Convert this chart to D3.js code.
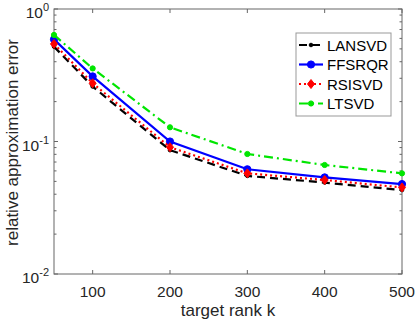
<!DOCTYPE html>
<html><head><meta charset="utf-8">
<script src="https://cdn.jsdelivr.net/npm/d3@7"></script>
<style>body{margin:0;background:#fff;} svg{display:block;}</style>
</head><body>
<script>
const ranks = [50, 100, 200, 300, 400, 500];
const lansvd = [0.52, 0.26, 0.086, 0.055, 0.049, 0.043];
const ffsrqr = [0.59, 0.31, 0.100, 0.0617, 0.0536, 0.0477];
const rsisvd = [0.545, 0.275, 0.0905, 0.0575, 0.0512, 0.0450];
const ltsvd = [0.637, 0.356, 0.128, 0.0805, 0.0665, 0.0575];
const seriesNames = ["LANSVD", "FFSRQR", "RSISVD", "LTSVD"];
const xTicks = [100, 200, 300, 400, 500];
const yTickExps = [0, -1, -2];

const W = 415, H = 320;
const m = {l: 54, r: 13, t: 9, b: 46};
const svg = d3.select("body").append("svg").attr("width", W).attr("height", H)
  .style("font-family", "'Liberation Sans', Arial, sans-serif");

const x = d3.scaleLinear().domain([50, 500]).range([m.l, W - m.r]);
const y = d3.scaleLog().domain([0.01, 1]).range([H - m.b, m.t]);

const axisColor = "#666";
const textColor = "#262626";
const g = svg.append("g");
g.append("rect").attr("x", m.l).attr("y", m.t).attr("width", W - m.r - m.l).attr("height", H - m.b - m.t)
  .attr("fill", "none").attr("stroke", axisColor).attr("stroke-width", 1);

xTicks.forEach(v => {
  g.append("line").attr("x1", x(v)).attr("x2", x(v)).attr("y1", y(0.01)).attr("y2", y(0.01) - 4).attr("stroke", axisColor);
  g.append("line").attr("x1", x(v)).attr("x2", x(v)).attr("y1", y(1)).attr("y2", y(1) + 4).attr("stroke", axisColor);
  g.append("text").attr("x", x(v)).attr("y", H - m.b + 23).attr("text-anchor", "middle")
    .attr("font-size", 15.5).attr("fill", textColor).text(v);
});
const allY = [];
for (let e = -2; e < 0; e++) for (let k = 1; k < 10; k++) allY.push({v: k * Math.pow(10, e), major: k === 1});
allY.push({v: 1, major: true});
allY.forEach(t => {
  const len = t.major ? 4 : 2.5;
  g.append("line").attr("x1", m.l).attr("x2", m.l + len).attr("y1", y(t.v)).attr("y2", y(t.v)).attr("stroke", axisColor);
  g.append("line").attr("x1", W - m.r).attr("x2", W - m.r - len).attr("y1", y(t.v)).attr("y2", y(t.v)).attr("stroke", axisColor);
});
yTickExps.forEach(e => {
  const t = g.append("text").attr("x", m.l - 5).attr("y", y(Math.pow(10, e)) + 9).attr("text-anchor", "end")
    .attr("font-size", 15.5).attr("fill", textColor);
  t.append("tspan").text("10");
  t.append("tspan").attr("dy", -7).attr("font-size", 11).text(e);
});

svg.append("text").attr("x", (m.l + W - m.r) / 2).attr("y", H - 4).attr("text-anchor", "middle")
  .attr("font-size", 17).attr("fill", textColor).text("target rank k");
svg.append("text").attr("transform", `translate(18,${(m.t + H - m.b) / 2 + 1}) rotate(-90)`).attr("text-anchor", "middle")
  .attr("font-size", 17).attr("fill", textColor).text("relative approximation error");

const series = [
  {name: seriesNames[0], vals: lansvd, color: "#000000", dash: "8,5", marker: "dot", ms: 1.8},
  {name: seriesNames[1], vals: ffsrqr, color: "#0000ff", dash: null, marker: "circle", ms: 3.6},
  {name: seriesNames[2], vals: rsisvd, color: "#ff0000", dash: "2,3", marker: "diamond", ms: 5},
  {name: seriesNames[3], vals: ltsvd, color: "#00e600", dash: "9,4,2,4", marker: "dot", ms: 2.6}
];
const line = d3.line().x(d => x(d[0])).y(d => y(d[1]));
function drawMarker(sel, s, cx, cy) {
  if (s.marker === "diamond") {
    const hw = 3.5, hh = 4.5;
    sel.append("path").attr("d", `M${cx},${cy - hh}L${cx + hw},${cy}L${cx},${cy + hh}L${cx - hw},${cy}Z`)
      .attr("fill", s.color).attr("stroke", s.color).attr("stroke-width", 1);
  } else {
    sel.append("circle").attr("cx", cx).attr("cy", cy).attr("r", s.ms).attr("fill", s.color).attr("stroke", s.color).attr("stroke-width", 1);
  }
}
const plot = svg.append("g");
series.forEach(s => {
  const data = ranks.map((r, i) => [r, s.vals[i]]);
  plot.append("path").attr("d", line(data)).attr("fill", "none").attr("stroke", s.color).attr("stroke-width", 2.2)
    .attr("stroke-dasharray", s.dash);
  data.forEach(d => drawMarker(plot, s, x(d[0]), y(d[1])));
});

const lg = svg.append("g");
const lx = 296, ly = 33, lw = 95, lh = 83;
lg.append("rect").attr("x", lx).attr("y", ly).attr("width", lw).attr("height", lh).attr("fill", "#fff").attr("stroke", "#999").attr("stroke-width", 1);
series.forEach((s, i) => {
  const yy = ly + 12 + i * 19.5;
  lg.append("line").attr("x1", lx + 3).attr("x2", lx + 27).attr("y1", yy).attr("y2", yy).attr("stroke", s.color)
    .attr("stroke-width", 2.2).attr("stroke-dasharray", s.dash);
  drawMarker(lg, s, lx + 15, yy);
  lg.append("text").attr("x", lx + 31).attr("y", yy + 5.5).attr("font-size", 15).attr("fill", "#000").text(s.name);
});
</script>
</body></html>
